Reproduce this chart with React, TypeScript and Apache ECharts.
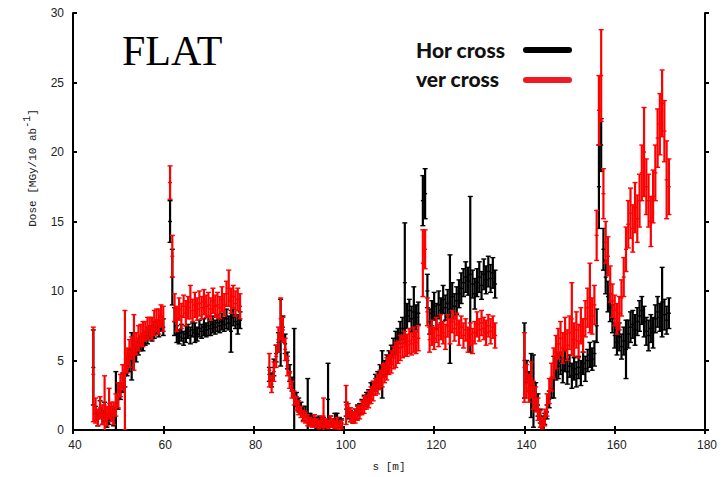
import React, { useEffect, useRef } from "react";
import * as echarts from "echarts";

// Beam-line positions (m) where each measured stretch begins; samples every 0.5 m.
const STEP = 0.5;
const segmentStarts = [44.5, 61.5, 83.5, 100.5, 117.5, 140.0];

// Horizontal crossing: [dose, error] in MGy/10 ab^-1
const horA = [
  [4.5, 2.7], [1.2, 0.5], [0.8, 0.5], [1.5, 0.6], [0.9, 0.5], [1.3, 0.7], [0.7, 0.5], [1.0, 0.6], [1.2, 0.5], [0.9, 0.6],
  [1.6, 2.6], [2.2, 0.7], [2.8, 0.6], [3.4, 0.7], [3.9, 0.8], [4.6, 0.7], [5.0, 0.8], [5.3, 1.7], [5.8, 0.6], [5.6, 0.7],
  [6.0, 0.6], [6.2, 0.5], [6.3, 0.6], [6.6, 0.5], [6.8, 0.6], [7.0, 0.5], [6.9, 0.5], [7.2, 0.6], [7.4, 0.5], [7.3, 0.6],
  [7.6, 0.5], [7.4, 0.6],
];
const horB = [
  [15.0, 1.5], [11.0, 2.0], [7.8, 1.0], [6.9, 0.6], [6.7, 0.5], [7.0, 0.6], [6.6, 0.5], [6.9, 0.6], [7.1, 0.5], [6.8, 0.6],
  [7.2, 0.5], [7.0, 0.7], [6.9, 0.5], [7.3, 0.6], [7.1, 0.5], [7.4, 0.6], [7.2, 0.5], [7.5, 0.7], [7.3, 0.5], [7.6, 0.6],
  [7.4, 0.5], [7.7, 0.6], [7.5, 0.5], [7.8, 0.6], [7.6, 0.5], [8.0, 0.7], [7.7, 0.5], [7.1, 1.5], [8.1, 0.6], [7.8, 0.5],
  [7.6, 0.7], [7.9, 0.6],
];
const horC = [
  [4.0, 0.5], [3.6, 0.5], [4.5, 0.6], [5.5, 0.6], [6.3, 0.7], [7.0, 2.4], [7.4, 0.8], [6.2, 0.7], [5.0, 0.6], [4.1, 0.6],
  [3.3, 0.5], [2.6, 4.7], [2.2, 0.5], [1.8, 0.5], [1.6, 0.4], [1.2, 0.5], [1.3, 0.4], [1.0, 2.7], [0.8, 0.4], [0.7, 0.4],
  [0.6, 0.3], [0.5, 0.4], [0.7, 0.3], [0.5, 0.4], [0.6, 0.3], [0.4, 0.3], [2.2, 2.6], [0.6, 0.4], [0.5, 0.3], [0.8, 0.4],
  [0.7, 0.5], [0.6, 0.3], [0.5, 0.3],
];
const horD = [
  [1.5, 0.5], [1.2, 0.4], [1.0, 0.4], [0.9, 0.4], [1.1, 0.4], [1.3, 0.5], [1.5, 0.4], [1.7, 0.5], [2.0, 0.5], [2.2, 0.5],
  [2.4, 0.5], [2.8, 0.6], [3.0, 0.5], [3.4, 0.6], [3.6, 0.6], [4.1, 0.6], [4.0, 1.7], [4.4, 0.6], [4.7, 0.7], [5.1, 0.6],
  [5.4, 0.7], [5.9, 0.7], [6.3, 0.8], [6.6, 0.7], [7.0, 0.8], [7.3, 0.8], [10.6, 4.3], [8.2, 0.9], [8.6, 0.8], [8.0, 0.9],
  [8.5, 1.8], [8.1, 0.9], [8.4, 0.8],
];
const horE = [
  [16.5, 1.8], [17.0, 1.8], [10.0, 1.2], [7.8, 0.9], [8.4, 0.9], [8.9, 1.0], [8.2, 0.9], [9.0, 1.0], [8.6, 0.9], [9.4, 1.0],
  [8.8, 0.9], [9.1, 1.0], [8.7, 3.9], [9.6, 1.0], [8.9, 0.9], [9.3, 1.0], [9.8, 1.0], [10.2, 1.1], [10.6, 1.0], [11.0, 1.1],
  [10.7, 1.0], [11.2, 5.6], [10.5, 1.0], [9.8, 1.1], [10.6, 1.0], [11.0, 1.1], [10.4, 1.0], [11.2, 1.1], [10.8, 1.0], [11.4, 1.1],
  [10.9, 1.0], [11.3, 1.1], [10.5, 1.0],
];
const horF = [
  [5.0, 2.7], [4.2, 0.8], [3.5, 0.7], [3.2, 2.3], [2.8, 2.6], [2.4, 1.0], [1.8, 0.8], [1.0, 0.5], [0.6, 0.4], [0.8, 0.4],
  [1.3, 0.5], [2.2, 0.6], [3.0, 0.7], [3.8, 1.5], [4.4, 0.8], [4.6, 0.9], [4.8, 0.8], [4.3, 0.9], [5.0, 0.8], [4.2, 0.9],
  [4.6, 0.8], [3.9, 0.9], [4.4, 0.8], [4.0, 0.9], [4.5, 0.8], [4.1, 0.9], [4.8, 0.8], [4.4, 0.9], [5.0, 0.8], [5.4, 0.9],
  [5.1, 0.8], [5.5, 0.9], [7.5, 1.2], [17.5, 3.0], [20.5, 1.9], [13.0, 1.5], [11.0, 1.2], [9.6, 1.1], [8.8, 1.0], [8.0, 1.0],
  [6.8, 0.9], [6.3, 0.9], [6.7, 1.0], [6.0, 0.9], [6.4, 1.0], [5.8, 2.1], [6.9, 1.0], [7.4, 1.1], [7.6, 1.0], [7.2, 1.1],
  [7.8, 1.0], [8.2, 1.1], [8.6, 1.0], [7.8, 1.1], [7.1, 1.0], [6.8, 1.1], [7.3, 1.0], [7.0, 1.1], [8.0, 1.0], [8.5, 1.1],
  [8.1, 1.0], [9.2, 2.5], [8.3, 1.1], [7.9, 1.0], [8.4, 1.1],
];

// Vertical crossing: [dose, error] in MGy/10 ab^-1
const verA = [
  [4.0, 3.4], [1.4, 0.9], [0.9, 0.6], [1.6, 0.8], [1.1, 0.7], [1.8, 2.1], [1.0, 0.7], [1.9, 1.1], [1.3, 0.7], [1.2, 0.8],
  [1.8, 0.8], [2.5, 0.9], [3.2, 0.8], [3.8, 0.9], [4.3, 4.3], [5.0, 0.9], [5.5, 1.0], [5.9, 0.8], [6.3, 2.0], [6.2, 0.8],
  [6.6, 0.9], [6.8, 0.8], [6.9, 0.9], [7.1, 0.7], [7.3, 0.8], [7.4, 0.7], [7.3, 0.8], [7.7, 0.9], [7.9, 0.8], [7.8, 0.9],
  [8.2, 0.8], [8.0, 0.9],
];
const verB = [
  [17.8, 1.2], [12.5, 1.5], [8.8, 1.0], [8.0, 0.9], [8.7, 0.8], [8.2, 0.9], [8.9, 0.8], [8.4, 0.9], [8.8, 0.8], [9.2, 1.2],
  [8.6, 0.8], [9.0, 0.9], [8.7, 0.8], [9.1, 0.9], [8.8, 0.8], [9.2, 0.9], [8.9, 0.8], [9.0, 0.9], [8.7, 0.8], [9.3, 0.9],
  [8.9, 0.8], [9.0, 0.9], [8.8, 0.8], [9.4, 0.9], [9.0, 0.8], [9.8, 0.9], [10.2, 1.3], [9.3, 0.9], [9.6, 0.8], [9.1, 0.9],
  [9.4, 0.8], [8.9, 0.9],
];
const verC = [
  [4.3, 1.2], [3.3, 0.6], [4.2, 0.7], [5.3, 0.8], [6.5, 0.9], [8.0, 1.5], [7.2, 0.9], [5.8, 0.8], [4.6, 0.7], [3.6, 0.6],
  [2.9, 0.6], [2.3, 0.5], [1.9, 0.5], [1.6, 0.5], [1.3, 0.4], [1.0, 0.4], [0.9, 0.4], [0.7, 0.4], [0.6, 0.3], [0.5, 0.3],
  [0.7, 0.4], [0.5, 0.3], [0.4, 0.3], [0.6, 0.4], [1.0, 1.3], [0.5, 0.3], [0.4, 0.3], [0.6, 0.4], [0.5, 0.3], [0.4, 0.3],
  [0.5, 0.4], [0.3, 0.3], [0.4, 0.3],
];
const verD = [
  [1.8, 1.4], [1.4, 0.5], [1.1, 0.5], [0.9, 0.4], [1.0, 0.5], [1.2, 0.5], [1.3, 0.5], [1.6, 0.5], [1.8, 0.6], [2.0, 0.5],
  [2.2, 0.6], [2.5, 0.6], [2.8, 0.7], [3.1, 0.6], [3.3, 0.7], [3.6, 0.7], [3.9, 0.8], [4.1, 0.7], [4.4, 0.8], [4.7, 0.7],
  [4.9, 0.8], [5.2, 0.8], [5.4, 0.9], [5.6, 0.8], [5.9, 0.9], [6.0, 0.8], [6.2, 0.9], [6.1, 0.8], [6.4, 0.9], [6.2, 0.8],
  [6.5, 0.9], [6.3, 0.8], [6.6, 0.9],
];
const verE = [
  [12.0, 2.4], [13.0, 1.4], [8.5, 1.0], [6.5, 0.9], [7.0, 0.9], [6.6, 0.8], [7.2, 0.9], [6.8, 0.8], [7.4, 0.9], [7.0, 0.8],
  [6.7, 0.9], [7.5, 0.8], [7.1, 0.9], [7.8, 0.8], [7.3, 0.9], [7.6, 0.8], [7.0, 0.9], [7.4, 0.8], [6.8, 0.9], [7.2, 0.8],
  [6.5, 0.9], [6.9, 0.8], [6.4, 0.9], [7.0, 0.8], [7.6, 0.9], [7.2, 0.8], [7.7, 0.9], [7.3, 0.8], [7.0, 0.9], [7.5, 0.8],
  [7.1, 0.9], [7.4, 0.8], [6.8, 0.9],
];
const verF = [
  [4.5, 2.5], [3.5, 1.2], [3.0, 1.0], [3.6, 1.3], [2.5, 1.0], [2.2, 0.9], [1.5, 0.8], [0.8, 0.6], [0.5, 0.4], [0.9, 0.6],
  [1.8, 0.8], [2.8, 0.9], [3.8, 1.0], [4.8, 1.1], [5.6, 1.2], [6.2, 1.1], [6.6, 1.2], [5.9, 1.1], [6.9, 1.2], [6.1, 1.1],
  [7.0, 1.2], [8.0, 2.6], [6.5, 1.2], [7.2, 1.3], [6.4, 1.2], [7.5, 1.3], [6.8, 1.2], [8.0, 1.3], [8.8, 1.4], [9.5, 2.5],
  [8.2, 1.3], [9.0, 1.4], [14.0, 1.8], [23.0, 2.5], [25.5, 3.3], [17.0, 1.8], [13.5, 1.5], [12.5, 1.4], [10.5, 1.3], [9.3, 1.2],
  [8.6, 1.1], [8.0, 1.1], [8.4, 1.2], [9.5, 1.3], [11.0, 1.4], [13.0, 1.6], [14.8, 1.7], [15.6, 1.8], [14.5, 1.7], [16.0, 1.8],
  [15.2, 1.7], [16.5, 1.9], [18.5, 2.0], [20.0, 3.2], [17.5, 2.0], [16.5, 1.9], [15.0, 1.8], [16.8, 1.9], [18.5, 2.0], [21.0, 2.1],
  [22.0, 2.2], [23.5, 2.4], [21.5, 2.2], [18.0, 2.8], [17.5, 2.0],
];

const horSegments = [horA, horB, horC, horD, horE, horF];
const verSegments = [verA, verB, verC, verD, verE, verF];

const xTicks = [40, 60, 80, 100, 120, 140, 160, 180];
const yTicks = [0, 5, 10, 15, 20, 25, 30];

const HOR_COLOR = "#000000";
const VER_COLOR = "#ff0000";

function toTriples(segments: number[][][]) {
  const out: number[][] = [];
  segments.forEach((seg, k) => {
    seg.forEach(([v, e], i) => out.push([segmentStarts[k] + i * STEP, v, e]));
  });
  return out;
}

// Vertical error bar with end caps and a short tick at the measured value.
function errorBarSeries(name: string, color: string, data: number[][]) {
  return {
    type: "custom",
    name,
    data,
    clip: true,
    encode: { x: 0, y: 1 },
    renderItem: (_params: any, api: any) => {
      const s = api.value(0);
      const v = api.value(1);
      const e = api.value(2);
      const top = api.coord([s, v + e]);
      const bot = api.coord([s, v - e]);
      const mid = api.coord([s, v]);
      const cap = 2.5;
      const bar = { stroke: color, lineWidth: 2.2 };
      const tick = { stroke: color, lineWidth: 1.4 };
      return {
        type: "group",
        children: [
          { type: "line", shape: { x1: top[0], y1: top[1], x2: bot[0], y2: bot[1] }, style: bar },
          { type: "line", shape: { x1: top[0] - cap, y1: top[1], x2: top[0] + cap, y2: top[1] }, style: tick },
          { type: "line", shape: { x1: bot[0] - cap, y1: bot[1], x2: bot[0] + cap, y2: bot[1] }, style: tick },
          { type: "line", shape: { x1: mid[0] - 2, y1: mid[1], x2: mid[0] + 2, y2: mid[1] }, style: tick },
        ],
      };
    },
  };
}

export default function App() {
  const ref = useRef<HTMLDivElement>(null);

  useEffect(() => {
    if (!ref.current) return;
    const chart = echarts.init(ref.current, null, { renderer: "svg" });

    const labelFont = { color: "#222", fontSize: 12, fontFamily: "Liberation Sans" };
    const axisLine = { show: true, lineStyle: { color: "#000", width: 2 } };
    const tickStyle = { color: "#000", width: 2 };

    chart.setOption({
      animation: false,
      backgroundColor: "#fff",
      grid: { left: 73, right: 22, top: 13, bottom: 47 },
      xAxis: [
        {
          type: "value",
          min: xTicks[0],
          max: xTicks[xTicks.length - 1],
          interval: 20,
          axisLine,
          axisTick: { inside: true, length: 4, lineStyle: tickStyle },
          splitLine: { show: false },
          axisLabel: { ...labelFont, margin: 9, padding: [0, 0, 0, 4] },
        },
        {
          type: "value",
          position: "top",
          min: xTicks[0],
          max: xTicks[xTicks.length - 1],
          interval: 20,
          axisLine,
          axisTick: { inside: true, length: 4, lineStyle: tickStyle },
          splitLine: { show: false },
          axisLabel: { show: false },
        },
      ],
      yAxis: [
        {
          type: "value",
          min: yTicks[0],
          max: yTicks[yTicks.length - 1],
          interval: 5,
          axisLine,
          axisTick: { inside: true, length: 4, lineStyle: tickStyle },
          splitLine: { show: false },
          axisLabel: { ...labelFont, margin: 9 },
        },
        {
          type: "value",
          position: "right",
          min: yTicks[0],
          max: yTicks[yTicks.length - 1],
          interval: 5,
          axisLine,
          axisTick: { inside: false, length: 4, lineStyle: tickStyle },
          splitLine: { show: false },
          axisLabel: { show: false },
        },
      ],
      series: [
        errorBarSeries("Hor cross", HOR_COLOR, toTriples(horSegments)),
        errorBarSeries("ver cross", VER_COLOR, toTriples(verSegments)),
      ],
      graphic: [
        {
          type: "text",
          left: 122,
          top: 30,
          style: { text: "FLAT", font: "42px 'Liberation Serif'", fill: "#000" },
        },
        {
          type: "text",
          x: 416,
          y: 49,
          style: { text: "Hor cross", font: "900 21px Lato", fill: "#111", verticalAlign: "middle" },
        },
        {
          type: "line",
          shape: { x1: 526, y1: 50, x2: 569, y2: 50 },
          style: { stroke: "#000", lineWidth: 6, lineCap: "round" },
        },
        {
          type: "text",
          x: 416,
          y: 78,
          style: { text: "ver cross", font: "900 21px Lato", fill: "#111", verticalAlign: "middle" },
        },
        {
          type: "line",
          shape: { x1: 526, y1: 80, x2: 569, y2: 80 },
          style: { stroke: "#ed1c24", lineWidth: 6, lineCap: "round" },
        },
        {
          type: "text",
          x: 30,
          y: 168,
          rotation: Math.PI / 2,
          style: {
            text: "{n|Dose [MGy/10 ab}{s|-1}{n|]}",
            align: "center",
            verticalAlign: "middle",
            rich: {
              n: { fontFamily: "Liberation Mono", fontSize: 11, fill: "#222", verticalAlign: "bottom", lineHeight: 16 },
              s: { fontFamily: "Liberation Mono", fontSize: 10, fill: "#222", verticalAlign: "top", lineHeight: 16 },
            },
          },
        },
        {
          type: "text",
          x: 389,
          y: 467,
          style: {
            text: "s [m]",
            fontFamily: "Liberation Mono",
            fontSize: 11,
            fill: "#222",
            align: "center",
            verticalAlign: "middle",
          },
        },
      ],
    });

    return () => chart.dispose();
  }, []);

  return (
    <div
      ref={ref}
      style={{ position: "fixed", left: 0, top: 0, width: 727, height: 477, background: "#fff" }}
    />
  );
}
